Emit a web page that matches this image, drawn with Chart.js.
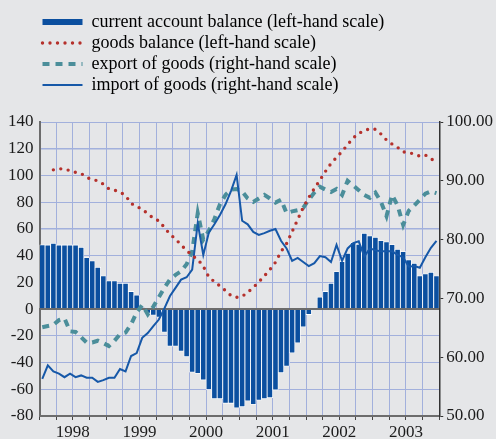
<!DOCTYPE html>
<html>
<head>
<meta charset="utf-8">
<script src="https://cdn.jsdelivr.net/npm/chart.js@4.4.1/dist/chart.umd.min.js"></script>
<style>
  html, body { margin: 0; padding: 0; background: #e5e6e8; }
  #wrap { width: 496px; height: 439px; }
</style>
</head>
<body>
<div id="wrap"><canvas id="bopChart" width="496" height="439"></canvas></div>
<script>
// years shown on the time axis, 12 monthly observations each (Jan 1998 - Dec 2003)
const years = ['1998', '1999', '2000', '2001', '2002', '2003'];

// left-hand scale
const currentAccount = [
    48.1, 48.0, 49.3, 48.0, 48.0, 48.0, 48.0, 46.3, 38.6, 36.1, 31.3, 24.9,
    21.2, 21.2, 19.4, 19.4, 13.2, 10.5, 1.0, -3.0, -4.5, -6.0, -17.3, -27.8,
    -27.8, -31.5, -35.7, -47.2, -48.2, -53.1, -60.1, -67.1, -67.1, -70.5, -70.5, -74.0,
    -73.0, -68.8, -71.3, -68.1, -67.1, -66.3, -60.6, -47.7, -42.7, -32.8, -25.3, -13.4,
    -4.1, 0, 9.0, 13.2, 19.4, 28.1, 35.6, 41.8, 49.8, 48.5, 56.7, 54.8,
    53.7, 51.3, 50.3, 48.3, 44.8, 43.1, 36.9, 34.3, 24.9, 26.4, 27.6, 24.9
];
const goodsBalance = [
    null, null, 104.2, 105.0, 104.8, 103.6, 102.3, 101.5, 98.5, 97.0, 96.0, 93.5,
    90.0, 89.0, 87.5, 85.0, 79.0, 77.0, 74.5, 71.5, 68.0, 66.0, 61.0, 56.0,
    52.5, 48.0, 44.0, 40.0, 37.3, 32.0, 24.0, 20.5, 17.3, 13.8, 10.0, 8.8,
    9.5, 12.5, 16.2, 20.3, 24.8, 29.5, 35.0, 43.0, 49.0, 58.0, 67.0, 76.0,
    83.5, 90.3, 96.5, 103.0, 109.0, 113.5, 118.0, 123.0, 128.0, 131.5, 133.5, 135.0,
    134.5, 131.0, 126.5, 123.5, 121.0, 117.6, 117.1, 116.0, 114.5, 115.3, 112.5, 110.0
];

// right-hand scale
const exportGoods = [
    65.1, 65.3, 65.5, 66.3, 66.6, 64.4, 64.3, 63.4, 62.5, 62.5, 62.8, 62.4,
    61.9, 62.8, 63.9, 64.2, 65.6, 67.6, 68.9, 67.3, 68.6, 70.2, 71.8, 73.2,
    74.0, 74.6, 75.8, 78.0, 84.5, 80.0, 81.5, 83.5, 86.0, 87.6, 88.5, 88.6,
    88.2, 87.0, 86.4, 87.0, 87.6, 87.0, 86.3, 86.8, 84.5, 84.8, 85.0, 85.4,
    86.8, 88.0, 89.0, 88.5, 88.1, 88.6, 87.6, 90.0, 89.2, 88.4, 87.6, 87.1,
    88.0, 86.4, 84.0, 87.6, 85.8, 82.5, 84.9, 85.8, 86.8, 87.8, 88.2, 87.9
];
const importGoods = [
    56.3, 58.6, 57.6, 57.2, 56.6, 57.2, 56.6, 56.9, 56.5, 56.5, 55.8, 56.1,
    56.5, 56.5, 58.0, 57.6, 60.2, 60.7, 63.3, 64.1, 65.3, 66.4, 68.3, 70.4,
    71.8, 73.2, 73.6, 74.9, 82.8, 77.4, 81.2, 82.6, 84.2, 86.0, 88.3, 91.0,
    83.2, 82.6, 81.3, 80.8, 81.1, 81.5, 81.8, 79.8, 78.5, 76.4, 76.9, 76.2,
    75.5, 76.0, 77.2, 77.0, 76.2, 79.1, 76.4, 78.5, 79.4, 79.7, 77.1, 78.5,
    78.2, 78.0, 78.0, 78.0, 77.4, 77.0, 75.4, 75.5, 75.2, 77.0, 78.6, 79.8
];

const leftTicks = { min: -80, max: 140, step: 20 };
const rightTicks = { min: 50, max: 100, step: 10 };

const seriesNames = [
    'current account balance (left-hand scale)',
    'goods balance (left-hand scale)',
    'export of goods (right-hand scale)',
    'import of goods (right-hand scale)'
];

// month midpoints on a linear axis (0 = start of Jan 1998)
const monthPos = currentAccount.map((_, i) => i + 0.5);

const BLUE = '#0b4f9f';
const RED = '#b5312c';
const TEAL = '#4b8e9a';
const LINE_BLUE = '#1658a8';
const GRID = '#a2b0dc';
const AXIS = '#6c6c6c';

// how each series is drawn in the legend
const legendLook = [
    { color: BLUE, width: 6, dash: [], cap: 'butt' },
    { color: RED, width: 3.4, dash: [0, 7.5], cap: 'round' },
    { color: TEAL, width: 4, dash: [7, 6], cap: 'butt' },
    { color: LINE_BLUE, width: 2, dash: [], cap: 'butt' }
];

Chart.defaults.font.family = '"Liberation Serif", "Times New Roman", serif';
Chart.defaults.font.size = 17;
Chart.defaults.color = '#1b1b1b';

const ctx = document.getElementById('bopChart').getContext('2d');
new Chart(ctx, {
    type: 'bar',
    data: {
        labels: monthPos,
        datasets: [
            {
                label: seriesNames[0],
                data: currentAccount,
                yAxisID: 'y',
                backgroundColor: BLUE,
                borderColor: '#ffffff',
                borderWidth: 0.8,
                barPercentage: 1,
                categoryPercentage: 1,
                order: 4
            },
            {
                type: 'line',
                label: seriesNames[1],
                data: goodsBalance,
                yAxisID: 'y',
                borderColor: RED,
                borderWidth: 3.4,
                borderDash: [0, 7.5],
                borderCapStyle: 'round',
                pointRadius: 0,
                tension: 0,
                order: 1
            },
            {
                type: 'line',
                label: seriesNames[2],
                data: exportGoods,
                yAxisID: 'y1',
                borderColor: TEAL,
                borderWidth: 4,
                borderDash: [7, 6],
                pointRadius: 0,
                tension: 0,
                order: 3
            },
            {
                type: 'line',
                label: seriesNames[3],
                data: importGoods,
                yAxisID: 'y1',
                borderColor: LINE_BLUE,
                borderWidth: 2,
                pointRadius: 0,
                tension: 0,
                order: 2
            }
        ]
    },
    options: {
        responsive: false,
        animation: false,
        events: [],
        layout: { padding: { top: 10, left: 2, right: 0, bottom: -6 } },
        plugins: {
            legend: {
                position: 'top',
                align: 'start',
                fullSize: false,
                labels: {
                    usePointStyle: true,
                    pointStyleWidth: 40,
                    padding: 3,
                    font: { size: 18, lineHeight: 1 },
                    generateLabels: chart => chart.data.datasets.map((ds, i) => ({
                        text: ds.label,
                        datasetIndex: i,
                        hidden: false,
                        pointStyle: 'line',
                        fillStyle: 'rgba(0,0,0,0)',
                        strokeStyle: legendLook[i].color,
                        lineWidth: legendLook[i].width,
                        lineDash: legendLook[i].dash,
                        lineCap: legendLook[i].cap
                    }))
                }
            },
            // empty title used only as a spacer between legend and plot
            title: {
                display: true,
                text: '',
                weight: 500,
                fullSize: false,
                font: { size: 10, lineHeight: 1 },
                padding: { top: 0, bottom: 8 }
            },
            tooltip: { enabled: false }
        },
        scales: {
            x: {
                type: 'linear',
                offset: false,
                min: 0,
                max: years.length * 12,
                grid: {
                    offset: false,
                    color: GRID,
                    lineWidth: 1,
                    tickLength: 4,
                    tickColor: '#444'
                },
                border: { color: AXIS, width: 2 },
                ticks: {
                    stepSize: 3,
                    autoSkip: false,
                    maxRotation: 0,
                    padding: 4,
                    font: { size: 17, lineHeight: 1 },
                    callback: v => (v % 12 === 6 ? years[(v - 6) / 12] : '')
                }
            },
            y: {
                position: 'left',
                min: leftTicks.min,
                max: leftTicks.max,
                grid: {
                    drawTicks: false,
                    color: c => (c.tick.value === 0 ? AXIS : GRID),
                    lineWidth: c => (c.tick.value === 0 ? 2 : (c.tick.value === 120 || c.tick.value === 60 ? 1.6 : 1))
                },
                border: { color: AXIS, width: 2 },
                ticks: { stepSize: leftTicks.step, padding: 6 }
            },
            y1: {
                position: 'right',
                min: rightTicks.min,
                max: rightTicks.max,
                grid: { drawOnChartArea: false, tickLength: 4, tickColor: '#333' },
                border: { color: '#333', width: 1.5 },
                ticks: {
                    stepSize: rightTicks.step,
                    padding: 3,
                    callback: v => v.toFixed(2)
                }
            }
        }
    }
});
</script>
</body>
</html>
